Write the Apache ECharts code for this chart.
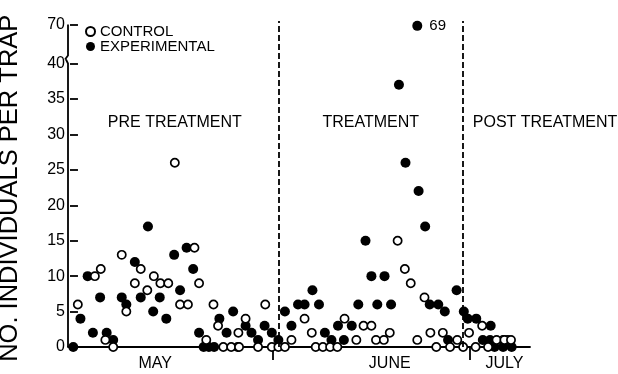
<!DOCTYPE html>
<html>
<head>
<meta charset="utf-8">
<script src="https://cdn.jsdelivr.net/npm/echarts@6/dist/echarts.min.js"></script>
<style>
  html, body { margin: 0; padding: 0; background: #fff; }
  #chart { width: 618px; height: 374px; }
</style>
</head>
<body>
<div id="chart"></div>
<script>
// Insects caught per trap on each sampling day (day 0 = start of May)
const controlDay = [1.2, 3.8, 4.7, 5.4, 6.6, 7.9, 8.6, 9.9, 10.8, 11.8, 12.8, 13.8, 15.0, 16.0, 16.8,
  18.0, 19.0, 19.7, 20.8, 21.9, 22.6, 23.4, 24.6, 25.7, 25.8, 26.8, 28.7, 29.8, 30.8, 31.8,
  32.8, 33.8, 35.8, 36.9, 37.5, 38.6, 39.7, 40.8, 41.9, 43.7, 44.8, 46.0, 46.7, 47.9, 48.8,
  50.0, 51.1, 52.0, 53.0, 54.1, 55.0, 55.9, 56.9, 58.0, 59.1, 60.0, 60.9, 61.9, 62.9, 63.8,
  65.1, 66.3, 67.3];
const controlCount = [6, 10, 11, 1, 0, 13, 5, 9, 11, 8, 10, 9, 9, 26, 6,
  6, 14, 9, 1, 6, 3, 0, 0, 2, 0, 4, 0, 6, 0, 0,
  0, 1, 4, 2, 0, 0, 0, 0, 4, 1, 3, 3, 1, 1, 2,
  15, 11, 9, 1, 7, 2, 0, 2, 0, 1, 0, 2, 0, 3, 0,
  1, 1, 1];

const experimentalDay = [0.5, 1.6, 2.7, 3.5, 4.6, 5.6, 6.6, 7.9, 8.6, 9.9, 10.8, 11.9, 12.7, 13.7, 14.7,
  15.9, 16.8, 17.8, 18.8, 19.7, 20.4, 21.2, 22.0, 22.8, 23.9, 24.9, 25.6, 26.8, 27.7, 28.7,
  29.7, 30.8, 31.8, 32.8, 33.8, 34.8, 35.8, 37.0, 38.0, 38.9, 39.9, 40.9, 41.8, 43.0, 44.0,
  45.1, 46.0, 46.9, 48.0, 49.0, 50.2, 51.2, 53.0, 53.2, 54.2, 54.9, 56.2, 57.2, 57.7, 59.0,
  60.1, 60.7, 62.0, 63.0, 64.1, 64.2, 64.8, 66.1, 66.1, 66.8, 67.4];
const experimentalCount = [0, 4, 10, 2, 7, 2, 1, 7, 6, 12, 7, 17, 5, 7, 4,
  13, 8, 14, 11, 2, 0, 0, 0, 4, 2, 5, 0, 3, 2, 1,
  3, 2, 1, 5, 3, 6, 6, 8, 6, 2, 1, 3, 1, 3, 6,
  15, 10, 6, 10, 6, 37, 26, 69, 22, 17, 6, 6, 5, 1, 8,
  5, 4, 4, 1, 1, 3, 0, 1, 0, 1, 0];

const monthNames = ['MAY', 'JUNE', 'JULY'];
const monthStarts = [31, 61];
const phaseNames = ['PRE TREATMENT', 'TREATMENT', 'POST TREATMENT'];
const phaseBounds = [31.8, 60];
const yTickValues = [0, 5, 10, 15, 20, 25, 30, 35, 40, 70];
const yTitle = 'NO. INDIVIDUALS PER TRAP';

// The value axis is broken between 40 and 70: that stretch is squeezed into a short span.
const BREAK_LOW = 40, BREAK_HIGH = 70, BREAK_SPAN = 5.5;
function toDisplay(v) {
  return v <= BREAK_LOW ? v : BREAK_LOW + (v - BREAK_LOW) * BREAK_SPAN / (BREAK_HIGH - BREAK_LOW);
}

const FONT = '"Liberation Sans", Arial, Helvetica, sans-serif';
const X_MIN = -0.3, X_MAX = 70.2;
const monthLabelAt = [13, 48.8, 66.3];
const yTickDisplay = yTickValues.map(toDisplay);

function points(days, counts, withOffScaleLabel) {
  return days.map((d, i) => {
    const item = { value: [d, toDisplay(counts[i]), counts[i]] };
    if (withOffScaleLabel && counts[i] > BREAK_LOW) {
      item.label = {
        show: true, position: 'right', distance: 7,
        formatter: String(counts[i]),
        color: '#000', fontSize: 15, fontFamily: FONT
      };
    }
    return item;
  });
}

const chart = echarts.init(document.getElementById('chart'), null, { renderer: 'canvas' });

chart.setOption({
  animation: false,
  backgroundColor: '#fff',
  textStyle: { fontFamily: FONT, color: '#000' },
  grid: { left: 68, right: 88, top: 21, bottom: 27, outerBoundsMode: 'none' },
  legend: {
    data: ['CONTROL', 'EXPERIMENTAL'],
    orient: 'vertical',
    left: 80, top: 19,
    itemWidth: 9, itemHeight: 9,
    itemGap: 0, itemTextGap: 6,
    icon: 'circle',
    textStyle: { fontSize: 15, lineHeight: 14, color: '#000', fontFamily: FONT }
  },
  xAxis: {
    type: 'value',
    min: X_MIN, max: X_MAX,
    splitLine: { show: false },
    axisLine: { show: true, onZero: false, lineStyle: { color: '#000', width: 1.8 } },
    axisTick: { show: true, customValues: monthStarts, length: 13, inside: false,
      lineStyle: { color: '#000', width: 1.8 } },
    axisLabel: {
      customValues: monthLabelAt,
      margin: 9, fontSize: 16, color: '#000', fontFamily: FONT,
      formatter: (v) => {
        let best = 0;
        monthLabelAt.forEach((m, i) => { if (Math.abs(m - v) < Math.abs(monthLabelAt[best] - v)) best = i; });
        return monthNames[best];
      }
    }
  },
  yAxis: {
    type: 'value',
    min: 0, max: 46,
    splitLine: { show: false },
    axisLine: { show: false },
    axisTick: { show: true, inside: true, length: 8, customValues: yTickDisplay,
      lineStyle: { color: '#000', width: 1.8 } },
    axisLabel: {
      customValues: yTickDisplay,
      margin: 3, fontSize: 16, color: '#000', fontFamily: FONT,
      formatter: (v) => {
        let best = 0;
        yTickDisplay.forEach((t, i) => { if (Math.abs(t - v) < Math.abs(yTickDisplay[best] - v)) best = i; });
        return String(yTickValues[best]);
      }
    }
  },
  series: [
    {
      name: 'EXPERIMENTAL',
      type: 'scatter',
      symbol: 'circle',
      symbolSize: 10,
      itemStyle: { color: '#000', opacity: 1 },
      emphasis: { disabled: true },
      data: points(experimentalDay, experimentalCount, true),
      markLine: {
        silent: true,
        symbol: ['none', 'none'],
        label: { show: false },
        lineStyle: { color: '#000', width: 1.8, type: [6, 3] },
        data: phaseBounds.map((b) => ({ xAxis: b }))
      },
      z: 2
    },
    {
      name: 'CONTROL',
      type: 'scatter',
      symbol: 'circle',
      symbolSize: 8.2,
      itemStyle: { color: '#fff', borderColor: '#000', borderWidth: 1.7, opacity: 1 },
      emphasis: { disabled: true },
      data: points(controlDay, controlCount, false),
      z: 3
    }
  ]
});

// Broken axis line, axis title and treatment-phase captions, positioned through the axes.
function px(x, y) { return chart.convertToPixel({ xAxisIndex: 0, yAxisIndex: 0 }, [x, y]); }
const p0 = px(X_MIN, 0);
const p40 = px(X_MIN, toDisplay(BREAK_LOW));
const p70 = px(X_MIN, toDisplay(BREAK_HIGH));
const ax = p0[0];
const lineStyle = { stroke: '#000', lineWidth: 1.8, fill: null };
const phaseCenters = [16, 45.9, 72.5];
const captionY = px(0, 31.6)[1];
const titleY = px(0, 22.4)[1];

chart.setOption({
  graphic: [
    { type: 'polyline', shape: { points: [[ax - 2, p40[1] - 4], [ax, p40[1]], [ax, p0[1]]] }, style: lineStyle },
    { type: 'polyline', shape: { points: [[ax, p70[1]], [ax, p70[1] + 31], [ax - 3, p70[1] + 35]] }, style: lineStyle },
    {
      type: 'text',
      x: 10, y: titleY,
      rotation: Math.PI / 2,
      style: {
        text: yTitle,
        fill: '#000',
        font: '25.5px ' + FONT,
        textAlign: 'center',
        textVerticalAlign: 'middle'
      }
    }
  ].concat(phaseNames.map((name, i) => ({
    type: 'text',
    x: px(phaseCenters[i], 0)[0],
    y: captionY,
    style: {
      text: name,
      fill: '#000',
      font: '16px ' + FONT,
      textAlign: 'center',
      textVerticalAlign: 'middle'
    }
  })))
});
</script>
</body>
</html>
